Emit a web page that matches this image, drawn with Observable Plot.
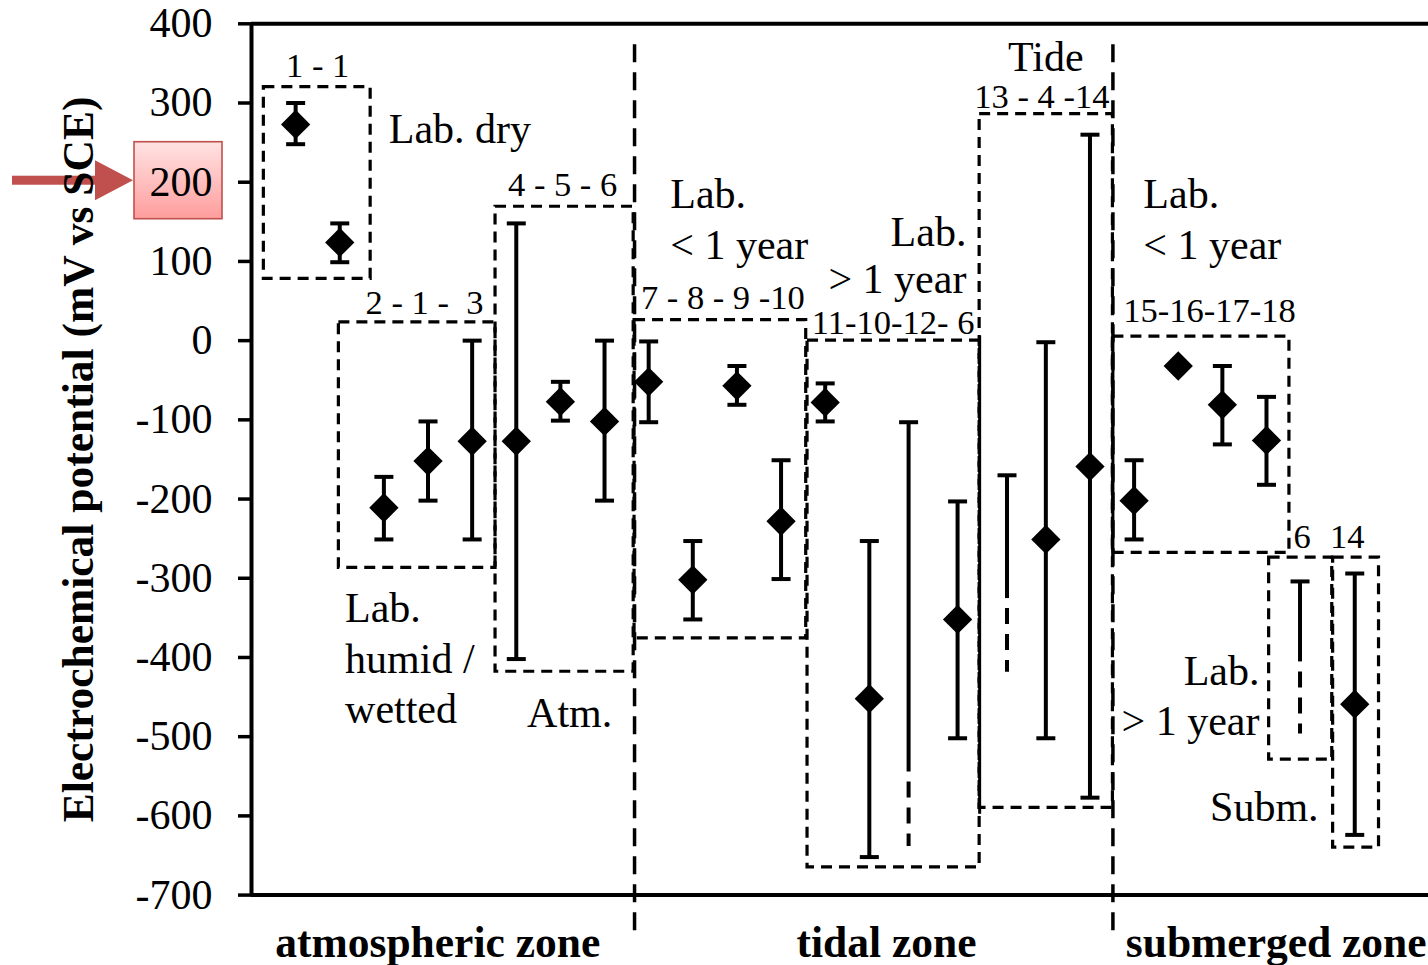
<!DOCTYPE html>
<html>
<head>
<meta charset="utf-8">
<script src="https://cdn.jsdelivr.net/npm/d3@7"></script>
<script src="https://cdn.jsdelivr.net/npm/@observablehq/plot@0.6"></script>
<style>
html, body { margin: 0; padding: 0; background: #fff; overflow: hidden; }
#chart svg { display: block; }
</style>
</head>
<body>
<div id="chart"></div>
<script>
// ---------- data ----------
// points with a diamond marker: position index, mean, error low / high
const pointX    = [1, 2, 3, 4, 5, 6, 7, 8, 9, 10, 11, 12, 13, 14, 16, 18, 19, 20, 21, 22, 23, 25];
const pointMean = [273, 124, -211, -152, -127, -127, -77, -102, -52, -302, -57, -228, -78, -452, -352, -251, -159, -202, -32, -81, -126, -459];
const pointLow  = [248, 99, -251, -202, -251, -402, -101, -202, -103, -352, -81, -301, -102, -652, -502, -502, -577, -251, null, -131, -182, -624];
const pointHigh = [300, 148, -172, -102, 0, 148, -52, 0, -1, -253, -32, -151, -54, -253, -203, -2, 260, -151, null, -32, -71, -294];

// ranges without a marker: position, upper cap, end of solid part, end of dashed part
const rangeX        = [14.89, 17.12, 23.76];
const rangeTop      = [-103, -170, -304];
const rangeSolidEnd = [-544, -325, -405];
const rangeDashEnd  = [-638, -418, -496];

// dashed group boxes
const boxLabel = ["1 - 1", "2 - 1 -\u00a0 3", "4 - 5 - 6", "7 - 8 - 9 -10", "11-10-12- 6", "13 - 4 -14", "15-16-17-18", "6", "14"];
const boxX1 = [0.28, 1.98, 5.53, 8.68, 12.6, 16.5, 19.52, 23.06, 24.51];
const boxX2 = [2.70, 5.53, 8.66, 12.57, 16.5, 19.52, 23.52, 24.49, 25.55];
const boxY1 = [78, -287, -418, -376, -665, -590, -268, -529, -640];
const boxY2 = [320, 23, 169, 26, 0, 286, 5, -274, -274];
// box-label placement
const boxLabelX = [1.50, 3.92, 7.05, 10.68, 14.54, 17.91, 21.71, 23.81, 24.83];
const boxLabelY = [347, 48, 196, 54, 22, 308, 37, -248, -248];

// box edges that overlap and read as solid lines
const overlapX  = [16.5, 19.52];
const overlapY1 = [-598, -268];
const overlapY2 = [6, 5];

// zone dividers
const dividerX = [8.68, 19.52];
const dividerTop = 384;
const dividerBottom = -745;

// free annotations
const noteText   = ["Lab. dry", "Lab.", "< 1 year", "Lab.", "< 1 year", "Lab.", "humid /", "wetted"];
const noteX      = [3.11, 9.49, 9.49, 20.21, 20.21, 2.12, 2.12, 2.12];
const noteY      = [266, 184, 120, 185, 120, -338, -403, -466];
const noteRText  = ["Lab.", "> 1 year", "Lab.", "> 1 year", "Subm."];
const noteRX     = [16.2, 16.2, 22.84, 22.84, 24.18];
const noteRY     = [137, 77, -418, -481, -590];
const noteCText  = ["Tide", "Atm."];
const noteCX     = [18.0, 7.21];
const noteCY     = [358, -471];

// zone labels under the axis
const zoneLabel = ["atmospheric zone", "tidal zone", "submerged zone"];
const zoneX     = [4.22, 14.39, 23.22];

const yTicks = d3.range(-700, 401, 100);
const yTitle = "Electrochemical potential (mV vs SCE)";
const highlightTick = 200;

// ---------- tables ----------
const points = pointX.map((x, i) => ({x, mean: pointMean[i], low: pointLow[i], high: pointHigh[i]}));
const errPoints = points.filter(d => d.low != null);
const ranges = rangeX.map((x, i) => ({x, top: rangeTop[i], solidEnd: rangeSolidEnd[i], dashEnd: rangeDashEnd[i]}));
const boxes = boxLabel.map((label, i) => ({label, x1: boxX1[i], x2: boxX2[i], y1: boxY1[i], y2: boxY2[i], lx: boxLabelX[i], ly: boxLabelY[i]}));
const overlaps = overlapX.map((x, i) => ({x, y1: overlapY1[i], y2: overlapY2[i]}));
const notesL = noteText.map((t, i) => ({t, x: noteX[i], y: noteY[i]}));
const notesR = noteRText.map((t, i) => ({t, x: noteRX[i], y: noteRY[i]}));
const notesC = noteCText.map((t, i) => ({t, x: noteCX[i], y: noteCY[i]}));
const zones = zoneLabel.map((t, i) => ({t, x: zoneX[i]}));

const serif = "'Liberation Serif', 'Times New Roman', Times, serif";
const W = 1428, H = 965;
const mL = 251, mT = 23.3, mB = 70.4, mR = 0;
const xMax = (W - mL - mR) / 44.13;

const capSymbol = {
  draw(ctx) { ctx.moveTo(-9.5, 0); ctx.lineTo(9.5, 0); }
};

// highlighted tick label box + arrow (annotation, drawn relative to the axis)
function highlight(index, scales, values, dimensions) {
  const y = scales.y(highlightTick);
  const left = dimensions.marginLeft;
  const g = d3.create("svg:g");
  const grad = g.append("defs").append("linearGradient")
    .attr("id", "pinkGrad").attr("x1", 0).attr("y1", 0).attr("x2", 0).attr("y2", 1);
  grad.append("stop").attr("offset", "0%").attr("stop-color", "#ffe3e3");
  grad.append("stop").attr("offset", "100%").attr("stop-color", "#ff9d9d");
  g.append("rect")
    .attr("x", left - 117).attr("y", y - 40)
    .attr("width", 88).attr("height", 77)
    .attr("fill", "url(#pinkGrad)").attr("stroke", "#c0504d").attr("stroke-width", 1.6);
  g.append("rect")
    .attr("x", 12).attr("y", y - 6).attr("width", 85).attr("height", 9)
    .attr("fill", "#c0504d");
  g.append("path")
    .attr("d", `M${left - 156},${y - 21.5}L${left - 118},${y - 1.5}L${left - 156},${y + 18.5}Z`)
    .attr("fill", "#c0504d");
  return g.node();
}

const chart = Plot.plot({
  width: W,
  height: H,
  marginLeft: mL,
  marginRight: mR,
  marginTop: mT,
  marginBottom: mB,
  style: {fontFamily: serif, background: "#fff", color: "#000", overflow: "visible"},
  x: {domain: [0, xMax], axis: null},
  y: {domain: [-700, 400], axis: null},
  marks: [
    highlight,
    Plot.text([yTitle], {
      text: d => d, frameAnchor: "left", rotate: -90, dx: -172,
      fontSize: 43.5, fontWeight: "bold", fontFamily: serif, fill: "black",
      textAnchor: "middle", lineAnchor: "middle"
    }),
    // dashed group boxes
    Plot.rect(boxes, {
      x1: "x1", x2: "x2", y1: "y1", y2: "y2",
      fill: "none", stroke: "black", strokeWidth: 3.2, strokeDasharray: "11,7"
    }),
    Plot.ruleX(overlaps, {x: "x", y1: "y1", y2: "y2", stroke: "black", strokeWidth: 3}),
    // zone dividers
    Plot.ruleX(dividerX, {
      x: d => d, y1: dividerBottom, y2: dividerTop,
      stroke: "black", strokeWidth: 3.5, strokeDasharray: "18,10"
    }),
    // error bars
    Plot.ruleX(errPoints, {x: "x", y1: "low", y2: "high", stroke: "black", strokeWidth: 4}),
    Plot.dot(errPoints, {x: "x", y: "low", symbol: capSymbol, fill: "none", stroke: "black", strokeWidth: 4}),
    Plot.dot(errPoints, {x: "x", y: "high", symbol: capSymbol, fill: "none", stroke: "black", strokeWidth: 4}),
    // ranges without marker
    Plot.link(ranges, {x1: "x", x2: "x", y1: "top", y2: "solidEnd", stroke: "black", strokeWidth: 4}),
    Plot.link(ranges, {
      x1: "x", x2: "x", y1: "solidEnd", y2: "dashEnd",
      stroke: "black", strokeWidth: 4, strokeDasharray: "16,10", strokeDashoffset: 16
    }),
    Plot.dot(ranges, {x: "x", y: "top", symbol: capSymbol, fill: "none", stroke: "black", strokeWidth: 4}),
    // diamond markers
    Plot.dot(points, {x: "x", y: "mean", symbol: "diamond2", r: 13.2, fill: "black", stroke: "none"}),
    // frame lines
    Plot.ruleX([0], {stroke: "black", strokeWidth: 4}),
    Plot.ruleY([400, -700], {stroke: "black", strokeWidth: 4}),
    // y axis
    Plot.axisY({
      ticks: yTicks, tickSize: 13, tickPadding: 26, tickFormat: d => String(d),
      fontSize: 42, fontFamily: serif, label: null, strokeWidth: 3.5, fill: "black", stroke: "black"
    }),
    // box labels
    Plot.text(boxes, {x: "lx", y: "ly", text: "label", fontSize: 34.5, fontFamily: serif, fill: "black", textAnchor: "middle", lineAnchor: "middle"}),
    // notes
    Plot.text(notesL, {x: "x", y: "y", text: "t", fontSize: 42, fontFamily: serif, fill: "black", textAnchor: "start", lineAnchor: "middle"}),
    Plot.text(notesR, {x: "x", y: "y", text: "t", fontSize: 42, fontFamily: serif, fill: "black", textAnchor: "end", lineAnchor: "middle"}),
    Plot.text(notesC, {x: "x", y: "y", text: "t", fontSize: 42, fontFamily: serif, fill: "black", textAnchor: "middle", lineAnchor: "middle"}),
    // zone labels
    Plot.text(zones, {x: "x", y: -700, dy: 48, text: "t", fontSize: 43.5, fontWeight: "bold", fontFamily: serif, fill: "black", textAnchor: "middle", lineAnchor: "middle"})
  ]
});
document.getElementById("chart").appendChild(chart);
</script>
</body>
</html>
